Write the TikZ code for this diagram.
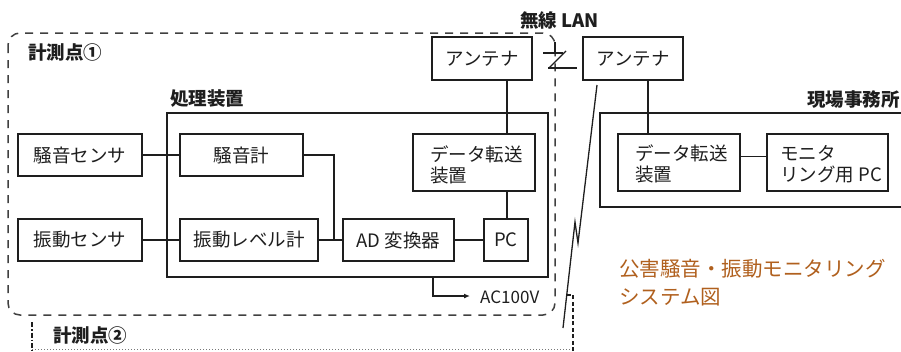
\documentclass[tikz,border=0pt]{standalone}
\usepackage{fontspec}
\setmainfont{Noto Sans CJK JP}
\usetikzlibrary{arrows.meta,calc}
\definecolor{ink}{HTML}{1E1E1E}
\definecolor{titlecol}{HTML}{B0601E}
\begin{document}
\begin{tikzpicture}[x=1pt,y=-1pt,
  box/.style={draw=ink, line width=1.4pt, inner sep=0pt, minimum height=42pt, font=\fontsize{18.5}{22}\selectfont, text=ink},
  tallbox/.style={box, minimum height=57pt},
  lbl/.style={font=\fontsize{18.5}{22}\selectfont\bfseries, text=ink, inner sep=0pt},
  conn/.style={draw=ink, line width=1.3pt},
  zone/.style={draw=ink!85, line width=1.5pt, dash pattern=on 8pt off 7pt, rounded corners=12pt}]
\useasboundingbox (0,0) rectangle (901,351);

% measuring point 1 zone
\draw[zone] (8,33) rectangle (555,315);
\node[lbl, anchor=west] (lp1) at (28,53) {計測点①};

% measuring point 2 zone
\draw[draw=ink, line width=1.2pt, dash pattern=on 5pt off 2pt on 1.5pt off 2pt] (32,322) -- (32,351);
\draw[draw=ink!60, line width=1pt, dotted] (32,349) -- (573,349);
\draw[draw=ink, line width=1.2pt, dash pattern=on 4pt off 2.5pt] (573,351) -- (573,295) -- (566,295);
\node[lbl, anchor=west] (lp2) at (53,335) {計測点②};

% processing unit
\node[draw=ink, line width=1.4pt, minimum width=381pt, minimum height=164pt, inner sep=0pt] (proc) at (357.5,195) {};
\node[lbl, anchor=west] (lproc) at (170,99) {処理装置};

% site office
\draw[conn, line width=1.4pt] (905,113) -- (600,113) -- (600,207) -- (905,207);
\node[lbl, anchor=east] (loff) at (900,100) {現場事務所};

% boxes
\node[box, minimum width=124pt] (s1) at (80,155) {騒音センサ};
\node[box, minimum width=123pt] (m1) at (241.5,155) {騒音計};
\node[box, minimum width=124pt] (s2) at (80,240) {振動センサ};
\node[box, minimum width=138pt] (m2) at (249,240) {振動レベル計};
\node[box, minimum width=111pt] (ad) at (398.5,240) {AD 変換器};
\node[box, minimum width=44pt] (pc) at (506,240) {PC};
\node[tallbox, minimum width=122pt] (dt1) at (474,162.5) {};
\node[anchor=west, align=left, inner sep=0pt, font=\fontsize{18.5}{21}\selectfont, text=ink] (dt1t) at (430,165) {データ転送\\装置};
\node[box, minimum width=100pt, minimum height=43pt] (ant1) at (482,58.5) {アンテナ};
\node[box, minimum width=100pt, minimum height=43pt] (ant2) at (633,58.5) {アンテナ};
\node[tallbox, minimum width=122pt] (dt2) at (679,162.5) {};
\node[anchor=west, align=left, inner sep=0pt, font=\fontsize{18.5}{21}\selectfont, text=ink] (dt2t) at (635,164) {データ転送\\装置};
\node[tallbox, minimum width=121pt] (mon) at (827.5,162.5) {};
\node[anchor=west, align=left, inner sep=0pt, font=\fontsize{18.5}{21}\selectfont, text=ink] (mont) at (780,164) {モニタ\\リング用 PC};

% connectors
\draw[conn] (s1.east) -- (m1.west);
\draw[conn] (s2.east) -- (m2.west);
\coordinate (j) at (334,240);
\draw[conn] (m1.east) -| (j);
\draw[conn] (m2.east) -- (ad.west);
\draw[conn] (ad.east) -- (pc.west);
\coordinate (v1) at (507,0);
\draw[conn] (v1 |- ant1.south) -- (v1 |- dt1.north);
\draw[conn] (v1 |- dt1.south) -- (v1 |- pc.north);
\coordinate (v2) at (648,0);
\draw[conn] (v2 |- ant2.south) -- (v2 |- dt2.north);
\draw[conn] ([yshift=6pt]dt2.east) -- ([yshift=6pt]mon.west);

% AC100V
\coordinate (acs) at (433,0);
\coordinate (ace) at (470,296);
\draw[conn, line width=1.2pt, -{Latex[length=6pt,width=5pt]}] (acs |- proc.south) |- (ace);
\node[anchor=west, inner sep=0pt, font=\fontsize{17}{20}\selectfont, text=ink] (ac) at (480,297) {AC100V};

% wireless LAN symbol
\node[lbl, anchor=west] (wl) at (520,20) {無線 LAN};
\draw[conn] (555,42) -- (555,53);
\draw[conn] (543,53) -- (563,53);
\draw[conn] (566,51) -- (549,68);
\draw[conn] (548,68) -- (577,68);

% lightning link to measuring point 2
\draw[conn] (597,85) -- (578,243) -- (575,222) -- (563,328);

% title
\node[anchor=north west, align=left, inner sep=0pt, font=\fontsize{20.5}{28}\selectfont, text=titlecol] (title) at (619,259) {公害騒音・振動モニタリング\\システム図};
\end{tikzpicture}
\end{document}
